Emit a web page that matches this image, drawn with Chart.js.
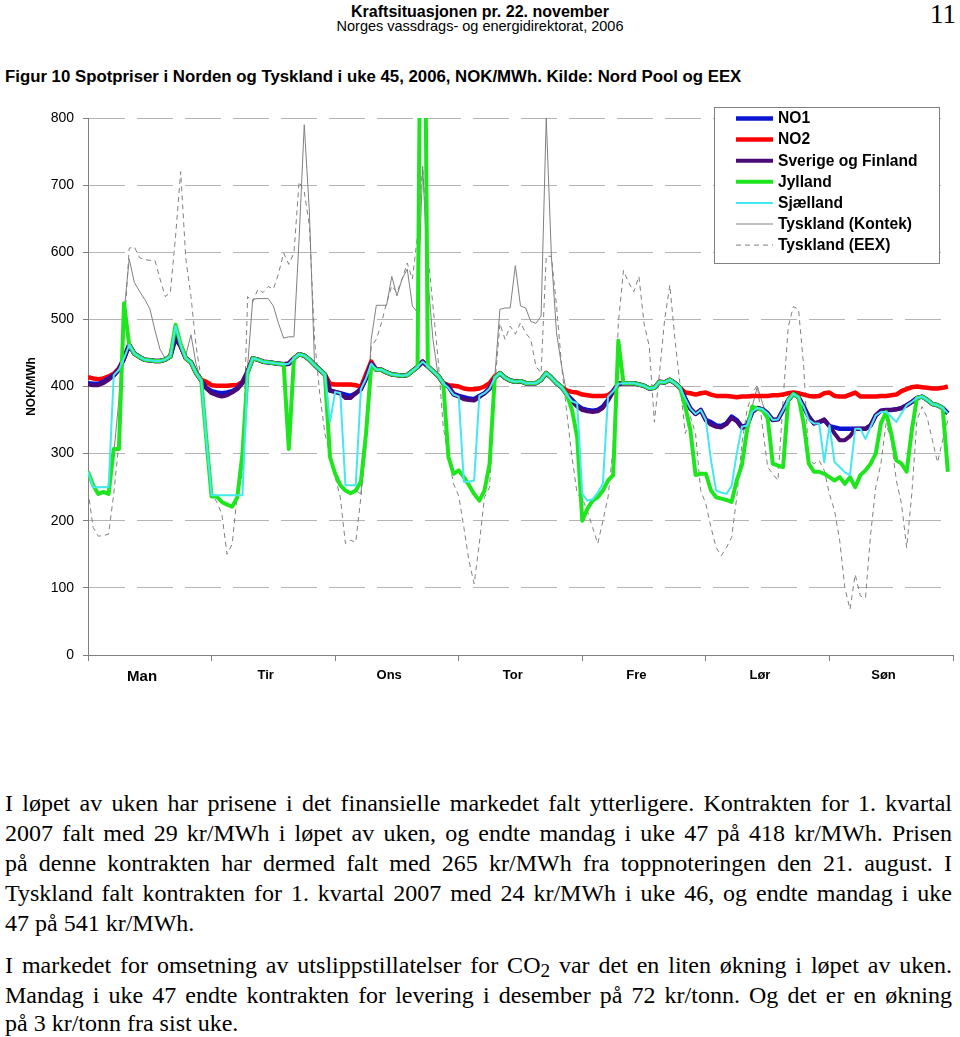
<!DOCTYPE html>
<html>
<head>
<meta charset="utf-8">
<script src="https://cdn.jsdelivr.net/npm/chart.js@4.4.1/dist/chart.umd.min.js"></script>
<style>
  body { margin: 0; background: #fff; width: 960px; height: 1037px; position: relative; overflow: hidden; font-family: "Liberation Sans", Arial, sans-serif; color: #000; }
  .abs { position: absolute; white-space: nowrap; }
  #hdr1 { top: 2px; left: 0; width: 960px; text-align: center; font-weight: bold; font-size: 16px; line-height: 20px; }
  #hdr2 { top: 18px; left: 0; width: 960px; text-align: center; font-size: 14.5px; line-height: 16px; }
  #pageno { top: -1px; right: 4px; font-family: "Liberation Serif", "Times New Roman", serif; font-size: 27px; line-height: 30px; }
  #figtitle { top: 67px; left: 5px; font-weight: bold; font-size: 16.8px; line-height: 20px; }
  #chartbox { position: absolute; top: 95px; left: 0; width: 960px; height: 620px; }
  .txt { position: absolute; left: 5px; width: 947px; font-family: "Liberation Serif", "Times New Roman", serif; font-size: 24px; line-height: 30px; white-space: nowrap; }
  .j { text-align: justify; text-align-last: justify; }
  sub { font-size: 0.8em; vertical-align: -4px; line-height: 0; }
</style>
</head>
<body>
<div class="abs" id="hdr1">Kraftsituasjonen pr. 22. november</div>
<div class="abs" id="hdr2">Norges vassdrags- og energidirektorat, 2006</div>
<div class="abs" id="pageno">11</div>
<div class="abs" id="figtitle">Figur 10 Spotpriser i Norden og Tyskland i uke 45, 2006, NOK/MWh. Kilde: Nord Pool og EEX</div>
<div id="chartbox"><canvas id="myChart" width="960" height="620"></canvas></div>

<div class="txt j" style="top:788px">I løpet av uken har prisene i det finansielle markedet falt ytterligere. Kontrakten for 1. kvartal</div>
<div class="txt j" style="top:818px">2007 falt med 29 kr/MWh i løpet av uken, og endte mandag i uke 47 på 418 kr/MWh. Prisen</div>
<div class="txt j" style="top:848px">på denne kontrakten har dermed falt med 265 kr/MWh fra toppnoteringen den 21. august. I</div>
<div class="txt j" style="top:878px">Tyskland falt kontrakten for 1. kvartal 2007 med 24 kr/MWh i uke 46, og endte mandag i uke</div>
<div class="txt" style="top:908px">47 på 541 kr/MWh.</div>
<div class="txt j" style="top:950px">I markedet for omsetning av utslippstillatelser for CO<sub>2</sub> var det en liten økning i løpet av uken.</div>
<div class="txt j" style="top:980px">Mandag i uke 47 endte kontrakten for levering i desember på 72 kr/tonn. Og det er en økning</div>
<div class="txt" style="top:1008px">på 3 kr/tonn fra sist uke.</div>

<script>
// hourly prices, uke 45 2006 (one row per day, Man..Søn)
const days = ["Man", "Tir", "Ons", "Tor", "Fre", "Lør", "Søn"];
const yTicks = [0, 100, 200, 300, 400, 500, 600, 700, 800];

const no1 = [
  405,404,404,407,412,417,425,442,462,449,444,440,439,438,438,440,445,472,460,442,436,420,409,398,
  393,391,390,391,393,397,406,422,442,440,437,436,435,434,433,434,442,448,446,440,432,425,418,394,
  392,390,388,386,390,396,412,434,425,425,421,418,417,416,417,423,429,437,430,423,416,405,400,389,
  386,384,382,381,386,390,397,413,420,413,409,407,408,405,405,405,410,420,413,405,399,388,380,372,
  367,365,364,365,370,380,393,404,405,405,405,403,401,397,398,407,406,410,405,398,382,367,359,365,
  350,347,342,341,345,355,350,340,342,362,368,366,360,350,351,365,380,389,384,370,355,345,347,350,
  341,339,337,337,337,337,337,337,342,357,364,365,365,366,368,372,377,383,385,380,374,372,368,360
];
const no2 = [
  414,412,411,412,415,419,427,442,462,449,444,440,439,438,438,440,445,480,460,442,436,420,410,407,
  402,401,401,401,402,402,407,422,442,440,437,436,435,434,433,434,442,448,446,440,432,425,418,404,
  403,403,403,403,402,399,418,437,425,425,421,418,417,416,417,423,429,437,430,423,416,405,402,401,
  400,397,396,396,397,400,405,415,420,413,409,407,408,405,405,405,410,420,413,405,399,394,392,391,
  388,387,386,386,386,387,393,404,405,405,405,403,401,397,398,407,406,410,405,398,391,390,388,390,
  391,388,386,386,386,385,384,385,385,386,386,386,386,387,387,388,390,391,390,388,386,385,386,390,
  391,386,385,385,388,391,385,385,385,385,386,386,387,388,393,396,399,400,399,398,397,397,398,400
];
const sverige = [
  403,402,402,405,410,416,425,442,462,449,444,440,439,438,438,440,445,475,460,442,436,420,409,397,
  390,387,385,387,391,396,405,422,442,440,437,436,435,434,433,434,442,448,446,440,432,425,418,394,
  392,390,383,383,390,396,412,434,425,425,421,418,417,416,417,423,429,437,430,423,416,405,400,388,
  385,381,380,379,384,390,397,413,420,413,409,407,408,405,405,405,410,420,413,405,399,388,378,370,
  365,363,362,363,368,379,393,404,405,405,405,403,401,397,398,407,406,410,405,398,382,367,359,365,
  350,343,340,339,344,353,348,338,342,362,368,366,360,350,351,365,380,389,384,370,355,345,347,351,
  341,330,320,320,326,337,337,337,342,357,364,365,365,366,368,372,377,383,385,380,374,372,368,360
];
const jylland = [
  273,253,240,243,240,307,307,524,462,449,444,440,439,438,438,440,445,492,463,442,436,420,409,320,
  236,236,228,224,221,235,300,420,442,440,437,436,435,434,433,307,442,448,446,440,432,425,418,295,
  270,253,245,241,245,258,330,430,425,425,421,418,417,416,417,423,429,1400,430,423,416,405,295,270,
  275,265,253,240,230,245,285,413,420,413,409,407,408,405,405,405,410,420,413,405,399,388,365,325,
  200,218,230,235,245,260,268,468,405,405,405,403,401,397,398,407,406,410,405,398,370,335,268,270,
  270,245,235,233,231,228,260,283,335,370,367,365,353,285,282,280,380,389,384,345,285,273,273,270,
  265,260,265,255,265,250,268,275,285,300,345,362,330,290,285,273,335,383,385,380,374,372,368,273
];
const sjaelland = [
  273,250,250,250,250,417,425,442,462,449,444,440,439,438,438,440,445,490,462,442,436,420,409,320,
  238,238,238,238,238,238,238,422,442,440,437,436,435,434,433,434,442,448,446,440,432,425,418,347,
  392,390,253,253,253,396,412,434,425,425,421,418,417,416,417,423,429,437,430,423,416,405,398,388,
  385,258,258,260,386,390,397,413,420,413,409,407,408,405,405,405,410,420,413,405,399,388,378,375,
  240,230,232,242,255,385,393,404,405,405,405,403,401,397,398,407,406,410,405,398,382,367,359,365,
  350,290,245,242,240,252,300,340,342,362,368,366,360,350,351,365,380,389,384,370,350,345,345,287,
  342,287,280,272,268,337,337,322,340,357,362,362,355,347,360,372,377,383,385,380,374,372,368,360
];
const kontek = [
  273,250,250,250,250,300,380,510,590,555,542,530,516,484,455,442,445,472,460,447,477,433,409,320,
  236,236,228,224,221,235,300,430,530,531,531,531,520,494,472,474,474,620,790,660,432,425,418,295,
  270,253,245,241,245,240,330,470,521,521,521,564,535,560,575,520,510,728,560,470,416,405,295,270,
  275,265,253,240,230,245,285,413,515,517,517,580,520,517,497,494,505,800,594,480,430,388,365,325,
  200,218,230,235,245,260,268,468,405,405,405,403,401,397,398,407,406,410,405,398,370,335,268,270,
  270,245,235,233,231,228,260,283,335,370,400,375,353,285,282,280,380,389,384,345,285,273,273,270,
  265,260,265,255,265,250,268,275,285,300,345,362,330,290,285,273,335,383,385,380,374,372,368,273
];
const eex = [
  245,190,177,178,180,240,315,480,606,608,592,589,588,588,560,534,540,623,720,590,534,460,410,300,
  240,228,210,150,165,240,270,534,526,545,540,549,545,568,599,582,599,705,690,640,470,390,330,300,
  265,235,166,171,168,235,310,460,470,495,525,550,540,560,584,560,625,728,600,520,440,340,295,255,
  237,190,140,106,166,235,250,400,494,470,490,478,495,480,470,430,420,594,594,520,430,360,295,240,
  233,215,190,166,200,235,310,494,573,555,541,564,494,460,347,420,500,551,470,402,330,355,330,245,
  225,190,160,148,160,175,235,315,365,390,402,340,280,270,260,380,489,519,515,430,290,285,290,275,
  240,215,170,100,68,120,88,85,180,250,285,345,320,260,225,160,240,350,370,353,320,287,320,350
];

const hoursPerDay = 24;
const labelHour = 10.5; // where the day name sits inside each day
const totalHours = days.length * hoursPerDay;

// x ticks: day boundaries (tick marks) + one label tick per day
let xTickVals = [];
for (let d = 0; d <= days.length; d++) {
  xTickVals.push(d * hoursPerDay);
  if (d < days.length) xTickVals.push(d * hoursPerDay + labelHour);
}
function dayLabel(v) {
  const d = (v - labelHour) / hoursPerDay;
  return Number.isInteger(d) ? days[d] : "";
}
function toPoints(arr) {
  return arr.map(function (v, i) { return { x: i, y: v }; });
}

const grey = "#808080";

const legendBox = {
  id: "legendBox",
  afterDatasetsDraw(chart) {
    const ctx = chart.ctx, area = chart.chartArea;
    const x0 = area.right - 239, y0 = area.top - 11, w = 225, h = 156;
    ctx.save();
    ctx.fillStyle = "#fff";
    ctx.fillRect(x0, y0, w, h);
    ctx.strokeStyle = grey;
    ctx.lineWidth = 1;
    ctx.strokeRect(x0 + 0.5, y0 + 0.5, w, h);
    chart.data.datasets.forEach(function (ds, i) {
      const y = y0 + 11.5 + i * 21.1;
      ctx.strokeStyle = ds.borderColor;
      ctx.lineWidth = ds.borderWidth;
      ctx.setLineDash(ds.borderDash || []);
      ctx.beginPath();
      ctx.moveTo(x0 + 22, y);
      ctx.lineTo(x0 + 59, y);
      ctx.stroke();
      ctx.setLineDash([]);
      ctx.fillStyle = "#000";
      ctx.font = 'bold 15.6px "Liberation Sans", Arial, sans-serif';
      ctx.textBaseline = "middle";
      ctx.fillText(ds.label, x0 + 64, y + 0.5);
    });
    ctx.restore();
  }
};

function series(label, data, color, width, order, dash) {
  return {
    label: label,
    data: toPoints(data),
    borderColor: color,
    backgroundColor: color,
    borderWidth: width,
    borderDash: dash || [],
    borderJoinStyle: "round",
    pointRadius: 0,
    tension: 0,
    fill: false,
    order: order
  };
}

Chart.defaults.font.family = '"Liberation Sans", Arial, sans-serif';
Chart.defaults.color = "#000";

const ctx = document.getElementById("myChart").getContext("2d");
const myChart = new Chart(ctx, {
  type: "line",
  data: {
    datasets: [
      series("NO1", no1, "#0a14d2", 4.5, 4),
      series("NO2", no2, "#ff0000", 4.5, 5),
      series("Sverige og Finland", sverige, "#4b0a78", 4, 3),
      series("Jylland", jylland, "#1ee61e", 4, 2),
      series("Sjælland", sjaelland, "#44e8f0", 2, 1),
      series("Tyskland (Kontek)", kontek, grey, 1, 6),
      series("Tyskland (EEX)", eex, grey, 1, 7, [5, 4])
    ]
  },
  options: {
    responsive: false,
    animation: false,
    events: [],
    layout: { padding: { left: 0, right: 3, top: 23, bottom: 0 } },
    plugins: { legend: { display: false }, tooltip: { enabled: false } },
    scales: {
      x: {
        type: "linear",
        min: 0,
        max: totalHours,
        afterBuildTicks: function (s) {
          s.ticks = xTickVals.map(function (v) { return { value: v }; });
        },
        afterFit: function (s) { s.height = 60; },
        ticks: {
          autoSkip: false,
          maxRotation: 0,
          padding: 7,
          color: "#000",
          callback: function (v) { return dayLabel(v); },
          font: function (c) {
            const lab = c.tick ? dayLabel(c.tick.value) : "";
            return { size: lab === "Man" ? 15 : 13, weight: "bold" };
          }
        },
        grid: {
          drawOnChartArea: false,
          tickLength: 6,
          tickColor: function (c) {
            return c.tick && c.tick.value % hoursPerDay === 0 ? grey : "rgba(0,0,0,0)";
          }
        },
        border: { color: grey }
      },
      y: {
        min: 0,
        max: 800,
        afterBuildTicks: function (s) {
          s.ticks = yTicks.map(function (v) { return { value: v }; });
        },
        afterFit: function (s) { s.width = 88; },
        ticks: { color: "#000", font: { size: 14 }, padding: 9 },
        grid: {
          color: function (c) { return c.tick && c.tick.value === 0 ? "rgba(0,0,0,0)" : "#b4b4b4"; },
          tickColor: grey,
          tickLength: 5
        },
        border: { color: grey, dash: [36, 12] },
        title: {
          display: true,
          text: "NOK/MWh",
          color: "#000",
          font: { size: 12, weight: "bold" },
          padding: { top: 24, bottom: 0 }
        }
      }
    }
  },
  plugins: [legendBox]
});
</script>
</body>
</html>
